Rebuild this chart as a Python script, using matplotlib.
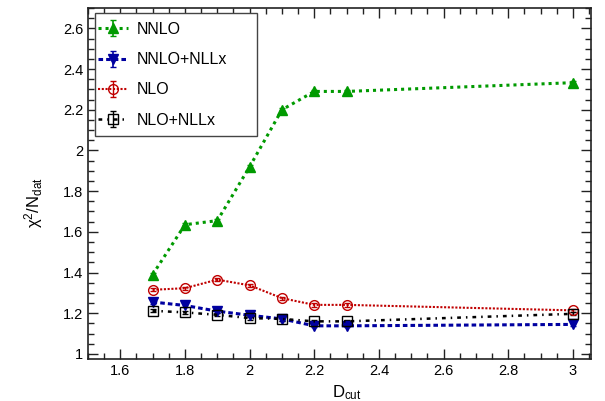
import matplotlib
matplotlib.use("Agg")
import matplotlib.pyplot as plt
from matplotlib.ticker import MultipleLocator, FuncFormatter
from matplotlib.patches import Rectangle

plt.rcParams['font.family'] = ['Liberation Sans', 'DejaVu Sans']
plt.rcParams['mathtext.fontset'] = 'custom'
plt.rcParams['mathtext.rm'] = 'Liberation Sans'
plt.rcParams['mathtext.it'] = 'Liberation Sans:italic'

dcut = [1.7, 1.8, 1.9, 2.0, 2.1, 2.2, 2.3, 3.0]
nnlo = [1.39, 1.635, 1.655, 1.92, 2.20, 2.29, 2.29, 2.333]
nnlo_nllx = [1.255, 1.238, 1.210, 1.190, 1.172, 1.138, 1.138, 1.145]
nlo = [1.315, 1.323, 1.365, 1.337, 1.274, 1.241, 1.241, 1.214]
nlo_nllx = [1.212, 1.204, 1.192, 1.176, 1.172, 1.160, 1.160, 1.197]
err = [0.008] * 8

W, H = 605, 401
L, R, T, B = 88, 591, 8, 359
fig = plt.figure(figsize=(W/100, H/100), dpi=100)
ax = fig.add_axes([L/W, 1-B/H, (R-L)/W, (B-T)/H])

def ax_xy(px, py):
    return ((px - L) / (R - L), (B - py) / (B - T))

green = '#009a00'
blue = '#0000a0'
red = '#c00000'

ax.errorbar(dcut, nnlo, yerr=err, color=green, ls=(0, (1, 1.3)), lw=2.2,
            marker='^', ms=7, mfc=green, mec=green, capsize=2, elinewidth=1.2,
            label='NNLO')
ax.errorbar(dcut, nnlo_nllx, yerr=err, color=blue, ls=(0, (1.5, 1)), lw=2.2,
            marker='v', ms=7, mfc=blue, mec=blue, capsize=2, elinewidth=1.2,
            label='NNLO+NLLx')
ax.errorbar(dcut, nlo, yerr=err, color=red, ls=(0, (1, 0.8)), lw=1.5,
            marker='o', ms=7, mfc='none', mec=red, mew=1.0, capsize=2, elinewidth=1.0,
            label='NLO')
ax.errorbar(dcut, nlo_nllx, yerr=err, color='black', ls=(0, (1.5, 2, 0.6, 2)), lw=1.8,
            marker='s', ms=7, mfc='none', mec='black', mew=1.0, capsize=2, elinewidth=1.0,
            label='NLO+NLLx')

ax.set_xlim(1.5, 3.056)
ax.set_ylim(0.975, 2.70)

ax.xaxis.set_major_locator(MultipleLocator(0.2))
ax.xaxis.set_minor_locator(MultipleLocator(0.05))
ax.yaxis.set_major_locator(MultipleLocator(0.2))
ax.yaxis.set_minor_locator(MultipleLocator(0.05))

def fmt(v, pos):
    s = ('%.1f' % v)
    if s.endswith('.0'):
        s = s[:-2]
    return s
ax.xaxis.set_major_formatter(FuncFormatter(fmt))
ax.yaxis.set_major_formatter(FuncFormatter(fmt))

ax.tick_params(which='both', direction='in', top=True, right=True, labelsize=10.5,
               colors='#222222', labelcolor='black')
ax.tick_params(which='major', length=7, width=1.0)
ax.tick_params(which='minor', length=4, width=1.0)
for sp in ax.spines.values():
    sp.set_linewidth(1.2)
    sp.set_color('#222222')

ax.set_xlabel(r'D$_{\mathrm{cut}}$', fontsize=12)
ax.set_ylabel('χ$^{2}$/N$_{\\mathrm{dat}}$', fontsize=12)
ax.xaxis.set_label_coords(0.515, -0.068)
ax.yaxis.set_label_coords(-0.085, 0.445)

# legend frame box (drawn separately, ROOT-style)
x0, y0 = ax_xy(95, 136)
x1, y1 = ax_xy(257, 13)
ax.add_patch(Rectangle((x0, y0), x1 - x0, y1 - y0, transform=ax.transAxes,
                       facecolor='white', edgecolor='#444444', lw=1.0, zorder=4.5))

ax_anchor = ax_xy(98, 22)
leg = ax.legend(loc='upper left', bbox_to_anchor=ax_anchor, fontsize=11.5,
                frameon=False, borderpad=0.0, labelspacing=0.95,
                handlelength=1.9, handletextpad=0.5, borderaxespad=0)
leg.set_zorder(5)

fig.savefig('out.png', dpi=100)
